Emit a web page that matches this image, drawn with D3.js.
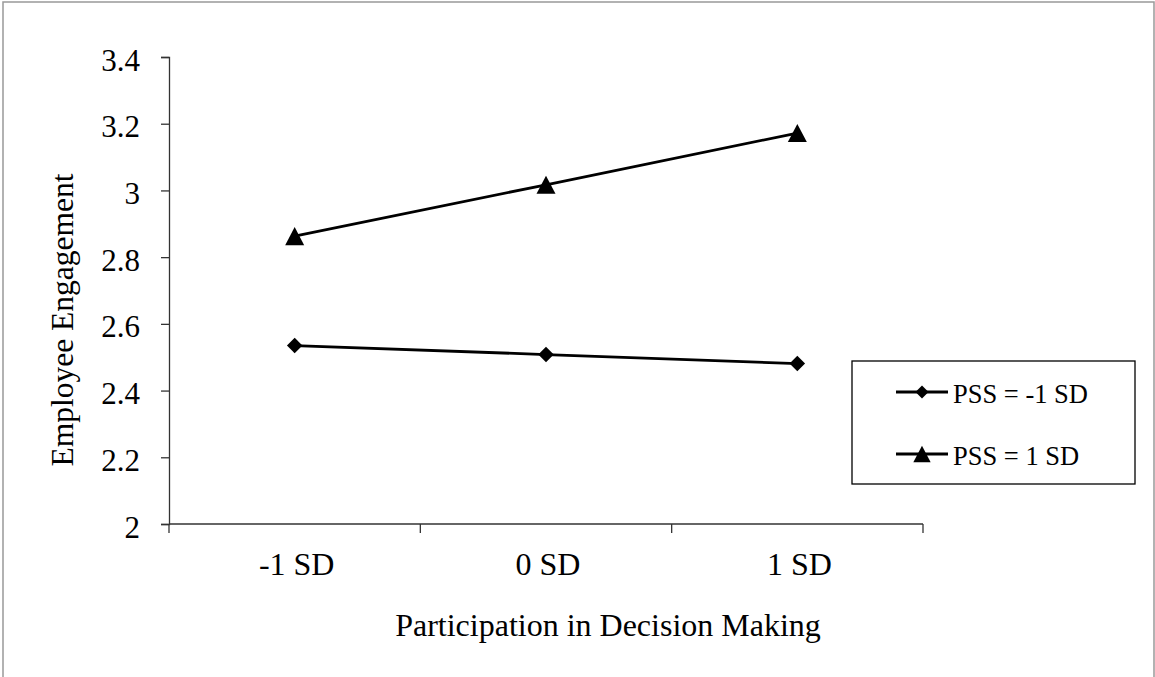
<!DOCTYPE html>
<html>
<head>
<meta charset="utf-8">
<script src="https://cdn.jsdelivr.net/npm/d3@7"></script>
<style>
  body { margin: 0; background: #fff; }
  svg text { font-family: "Liberation Serif", "Times New Roman", serif; }
</style>
</head>
<body>
<div id="chart"></div>
<script>
const categories = ["-1 SD", "0 SD", "1 SD"];
const lowPSS = [2.535, 2.508, 2.481];
const highPSS = [2.863, 3.017, 3.172];
const yTicks = [2, 2.2, 2.4, 2.6, 2.8, 3, 3.2, 3.4];
const seriesNames = ["PSS = -1 SD", "PSS = 1 SD"];

const width = 1155;
const height = 677;

const svg = d3.select("#chart")
  .append("svg")
  .attr("width", width)
  .attr("height", height);

// outer frame
svg.append("rect")
  .attr("x", 3).attr("y", 2)
  .attr("width", 1151).attr("height", 720)
  .attr("fill", "none")
  .attr("stroke", "#999")
  .attr("stroke-width", 1.5);

const xScale = d3.scaleBand().domain(categories).range([169, 923]);
const yScale = d3.scaleLinear().domain([2, 3.4]).range([524, 57]);
const cx = (d) => xScale(d) + xScale.bandwidth() / 2;

// markers
const triangle = {
  draw(ctx, size) {
    const w = Math.sqrt(size), h = w * 0.95;
    ctx.moveTo(0, -h / 2);
    ctx.lineTo(w / 2, h / 2);
    ctx.lineTo(-w / 2, h / 2);
    ctx.closePath();
  }
};
const diamond = {
  draw(ctx, size) {
    const r = Math.sqrt(size) / 2;
    ctx.moveTo(0, -r);
    ctx.lineTo(r, 0);
    ctx.lineTo(0, r);
    ctx.lineTo(-r, 0);
    ctx.closePath();
  }
};
const series = [
  { name: seriesNames[0], values: lowPSS, symbol: d3.symbol(diamond, 240) },
  { name: seriesNames[1], values: highPSS, symbol: d3.symbol(triangle, 361) },
];

// y axis
const yAxis = d3.axisLeft(yScale)
  .tickValues(yTicks)
  .tickSize(8)
  .tickPadding(21)
  .tickFormat(d3.format("~g"));
const gy = svg.append("g")
  .attr("transform", "translate(169,0)")
  .call(yAxis)
  .attr("font-family", null);
gy.select(".domain").attr("stroke", "#333").attr("stroke-width", 1.3);
gy.selectAll(".tick line").attr("stroke", "#333").attr("stroke-width", 1.3);
gy.selectAll(".tick text")
  .attr("font-size", 31)
  .attr("fill", "#000")
  .attr("dy", "0.42em");

// x axis: ticks on category boundaries
const boundaries = [169, ...categories.map((c) => xScale(c) + xScale.bandwidth())];
const gx = svg.append("g");
gx.append("line")
  .attr("x1", 169).attr("x2", 923)
  .attr("y1", 524).attr("y2", 524)
  .attr("stroke", "#333").attr("stroke-width", 1.3);
gx.selectAll(".bt")
  .data(boundaries)
  .join("line")
  .attr("x1", (d) => d).attr("x2", (d) => d)
  .attr("y1", 524).attr("y2", 533)
  .attr("stroke", "#333").attr("stroke-width", 1.3);
gx.selectAll(".xl")
  .data(categories)
  .join("text")
  .attr("x", (d) => cx(d) + 2)
  .attr("y", 575)
  .attr("text-anchor", "middle")
  .attr("font-size", 32)
  .text((d) => d);

// axis titles
svg.append("text")
  .attr("x", 608).attr("y", 636)
  .attr("text-anchor", "middle")
  .attr("font-size", 32)
  .text("Participation in Decision Making");

svg.append("text")
  .attr("transform", "translate(73,320) rotate(-90)")
  .attr("text-anchor", "middle")
  .attr("font-size", 31.5)
  .text("Employee Engagement");

// lines and markers
const line = d3.line()
  .x((d, i) => cx(categories[i]))
  .y((d) => yScale(d));

series.forEach((s) => {
  svg.append("path")
    .datum(s.values)
    .attr("d", line)
    .attr("fill", "none")
    .attr("stroke", "#000")
    .attr("stroke-width", 2.8);
  svg.selectAll(null)
    .data(s.values)
    .join("path")
    .attr("transform", (d, i) => `translate(${cx(categories[i])},${yScale(d)})`)
    .attr("d", s.symbol)
    .attr("fill", "#000");
});

// legend
const legend = svg.append("g");
legend.append("rect")
  .attr("x", 852).attr("y", 361)
  .attr("width", 283).attr("height", 123)
  .attr("fill", "#fff")
  .attr("stroke", "#000")
  .attr("stroke-width", 1.3);

const legendY = [392, 454];
series.forEach((s, i) => {
  const g = legend.append("g").attr("transform", `translate(0,${legendY[i]})`);
  g.append("line")
    .attr("x1", 896).attr("x2", 948)
    .attr("stroke", "#000").attr("stroke-width", 2.8);
  g.append("path")
    .attr("transform", "translate(922,0)")
    .attr("d", i === 0 ? d3.symbol(diamond, 170)() : d3.symbol(triangle, 300)())
    .attr("fill", "#000");
  g.append("text")
    .attr("x", 953).attr("y", 11)
    .attr("font-size", 26.5)
    .text(s.name);
});
</script>
</body>
</html>
